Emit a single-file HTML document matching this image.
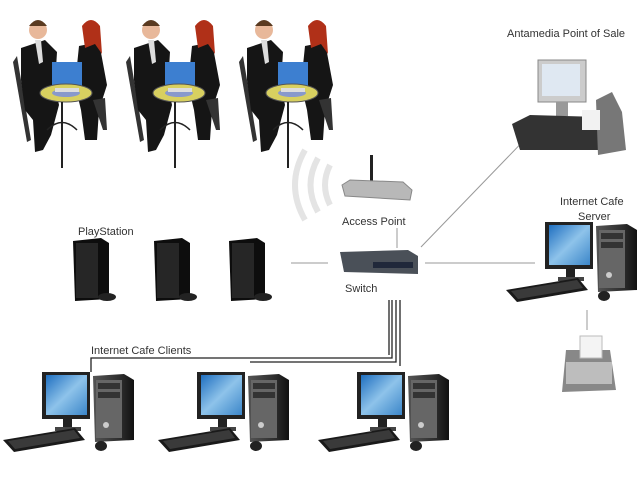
<!DOCTYPE html>
<html><head><meta charset="utf-8"><style>
html,body{margin:0;padding:0;background:#fff;}
svg{display:block;font-family:"Liberation Sans",sans-serif;}
</style></head><body>
<svg width="640" height="480" viewBox="0 0 640 480" xmlns="http://www.w3.org/2000/svg">
<defs>
<linearGradient id="scr" x1="0" y1="0" x2="1" y2="1"><stop offset="0" stop-color="#1f6fc0"/><stop offset="0.5" stop-color="#8ec3ea"/><stop offset="1" stop-color="#3c86c9"/></linearGradient>
<linearGradient id="tw" x1="0" y1="0" x2="1" y2="0"><stop offset="0" stop-color="#555"/><stop offset="0.7" stop-color="#2a2a2a"/><stop offset="1" stop-color="#111"/></linearGradient>
<g id="pc">
<rect x="42" y="372" width="48" height="47" fill="#222"/>
<rect x="46" y="375" width="41" height="40" fill="url(#scr)"/>
<rect x="63" y="419" width="9" height="10" fill="#222"/>
<rect x="55" y="427" width="26" height="4" fill="#444"/>
<path d="M93 376 L124 374 L134 380 L134 440 L95 442 Z" fill="url(#tw)"/>
<rect x="96" y="380" width="26" height="58" fill="#666"/>
<rect x="98" y="383" width="22" height="6" fill="#333"/>
<rect x="98" y="392" width="22" height="6" fill="#333"/>
<circle cx="106" cy="425" r="3" fill="#ccc"/>
<path d="M3 440 L75 428 L85 440 L14 452 Z" fill="#1a1a1a"/>
<path d="M8 441 L74 430 L80 438 L15 449 Z" fill="#3a3a3a"/>
<ellipse cx="101" cy="446" rx="6" ry="5" fill="#222"/>
</g>
<g id="ppl">
<path d="M18 72 L22 66 L36 150 L32 152 Z" fill="#333"/>
<path d="M26 58 L50 50 L62 62 L60 95 L64 115 L56 145 L48 160 L40 162 L38 130 L30 120 L26 90 Z" fill="#151515"/>
<path d="M40 50 L46 50 L48 72 L44 74 Z" fill="#ddd"/>
<circle cx="43" cy="40" r="9" fill="#e8b89a"/>
<path d="M34 36 Q43 24 52 36 Z" fill="#5a3a20"/>
<path d="M84 56 L104 52 L112 95 L104 120 L102 150 L90 150 L86 120 L80 95 Z" fill="#151515"/>
<circle cx="96" cy="40" r="8" fill="#f0c8a8"/>
<path d="M87 36 Q96 24 105 36 L107 64 L100 54 L90 58 Z" fill="#b03018"/>
<path d="M98 110 L110 108 L112 140 L108 140 Z" fill="#333"/>
<rect x="57" y="72" width="30" height="27" fill="#3d7fd0"/>
<ellipse cx="71" cy="103" rx="26" ry="9" fill="#d8d060" stroke="#555"/>
<ellipse cx="71" cy="103" rx="14" ry="4" fill="#8899cc"/>
<rect x="60" y="98" width="24" height="4" fill="#ddd"/>
<line x1="67" y1="112" x2="67" y2="178" stroke="#222" stroke-width="2"/>
<path d="M52 140 Q67 125 82 140" fill="none" stroke="#222" stroke-width="1.5"/>
</g>
<g id="ps">
<path d="M0 0 L28 -3 L36 2 L36 58 L2 60 Z" fill="#0d0d0d"/>
<rect x="3" y="2" width="22" height="55" fill="#262626"/>
<ellipse cx="34" cy="56" rx="9" ry="4" fill="#222"/>
</g>
</defs>

<use href="#ppl" x="-5" y="-10"/>
<use href="#ppl" x="108" y="-10"/>
<use href="#ppl" x="221" y="-10"/>

<g fill="none" stroke="#e4e4e4" stroke-width="6">
<path d="M305 150 Q285 185 305 220"/>
<path d="M318 158 Q303 185 318 212"/>
<path d="M330 165 Q320 185 330 205"/>
</g>

<g stroke="#999" stroke-width="1" fill="none">
<line x1="291" y1="263" x2="328" y2="263"/>
<line x1="425" y1="263" x2="535" y2="263"/>
<line x1="397" y1="228" x2="397" y2="248"/>
<line x1="421" y1="247" x2="534" y2="130"/>
<line x1="587" y1="310" x2="587" y2="330"/>
</g>
<g stroke="#222" stroke-width="1.3" fill="none">
<path d="M91 372 L91 358 L392 358 L392 300"/>
<path d="M250 362 L396 362 L396 300"/>
<line x1="400" y1="300" x2="400" y2="366"/>
<path d="M389 300 L389 355"/>
</g>

<rect x="370" y="155" width="3" height="28" fill="#222"/>
<path d="M342 185 L350 180 L403 182 L412 190 L410 200 L345 196 Z" fill="#b8b8b8" stroke="#888"/>
<path d="M340 252 L408 250 L418 256 L418 274 L344 272 Z" fill="#4a5058"/>
<rect x="373" y="262" width="40" height="6" fill="#20283a"/>

<use href="#ps" x="73" y="241"/>
<use href="#ps" x="154" y="241"/>
<use href="#ps" x="229" y="241"/>

<rect x="538" y="60" width="48" height="42" fill="#ccc" stroke="#888"/>
<rect x="542" y="64" width="38" height="32" fill="#dfe8f2"/>
<rect x="556" y="102" width="12" height="14" fill="#999"/>
<path d="M512 124 L530 115 L600 117 L600 150 L520 150 Z" fill="#333"/>
<path d="M596 100 L612 92 L622 112 L626 150 L598 155 Z" fill="#777"/>
<rect x="582" y="110" width="18" height="20" fill="#f2f2f2"/>

<use href="#pc"/>
<use href="#pc" x="155"/>
<use href="#pc" x="315"/>
<use href="#pc" x="503" y="-150"/>

<path d="M566 350 L610 350 L616 390 L562 392 Z" fill="#888"/>
<rect x="580" y="336" width="22" height="22" fill="#f4f4f4" stroke="#bbb"/>
<rect x="566" y="362" width="46" height="22" fill="#bdbdbd"/>

<g font-size="11" fill="#333">
<text x="507" y="37">Antamedia Point of Sale</text>
<text x="560" y="205">Internet Cafe</text>
<text x="578" y="220">Server</text>
<text x="342" y="225">Access Point</text>
<text x="345" y="292">Switch</text>
<text x="78" y="235">PlayStation</text>
<text x="91" y="354">Internet Cafe Clients</text>
</g>
</svg>
</body></html>
